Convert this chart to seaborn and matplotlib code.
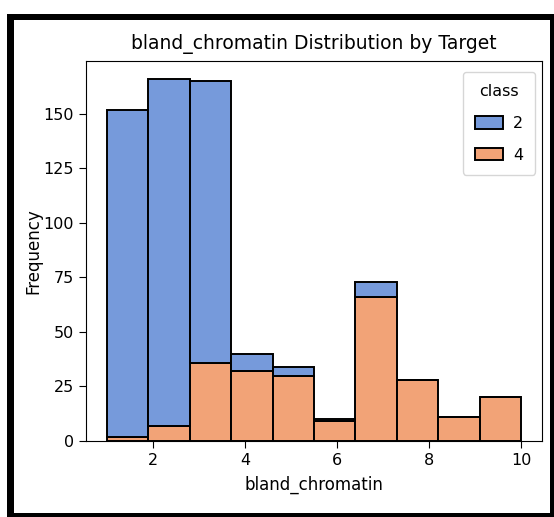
import matplotlib
matplotlib.use("Agg")
import matplotlib.pyplot as plt
from matplotlib.patches import Rectangle
import seaborn as sns
import pandas as pd

# bland_chromatin values and counts per class
chromatin_values = [1, 2, 3, 4, 5, 6, 7, 8, 9, 10]
counts_class2 = [150, 159, 129, 8, 4, 1, 7, 0, 0, 0]
counts_class4 = [2, 7, 36, 32, 30, 9, 66, 28, 11, 20]
class_levels = [2, 4]

df = pd.DataFrame({
    "bland_chromatin": chromatin_values * 2,
    "count": counts_class2 + counts_class4,
    "class": [2] * len(chromatin_values) + [4] * len(chromatin_values),
})

plt.rcParams["font.family"] = ["DejaVu Sans"]
fig = plt.figure(figsize=(5.54, 5.17), dpi=100)
ax = fig.add_axes([86 / 554, 1 - 441 / 517, (542 - 86) / 554, (441 - 61) / 517])

sns.histplot(
    data=df, x="bland_chromatin", weights="count", hue="class",
    hue_order=class_levels, multiple="stack", bins=10,
    palette="muted", edgecolor="black", linewidth=1.4, ax=ax,
)

ax.set_title("bland_chromatin Distribution by Target", fontsize=13.5, pad=9)
ax.set_xlabel("bland_chromatin", fontsize=12, labelpad=6)
ax.set_ylabel("Frequency", fontsize=12, labelpad=1)
ax.tick_params(labelsize=11.5, length=5)
ax.set_yticks([0, 25, 50, 75, 100, 125, 150])
ax.set_xticks([2, 4, 6, 8, 10])

old = ax.get_legend()
handles = old.legend_handles
labels = [t.get_text() for t in old.get_texts()]
old.remove()
ax.legend(handles, labels, title="class", loc="upper right", fontsize=11.5,
          title_fontsize=11.5, labelspacing=1.05, handleheight=0.85,
          handlelength=1.8, handletextpad=0.6, borderpad=0.75,
          bbox_to_anchor=(1 - 7 / 456, 1 - 11 / 380), borderaxespad=0)

# black screenshot frame
W, H = 554, 517
for (x0, y0, w, h) in [(7, 0, 7, 503), (7, 497, 547, 6), (550, 0, 4, 503), (7, 0, 547, 4)]:
    fig.add_artist(Rectangle((x0 / W, y0 / H), w / W, h / H, transform=fig.transFigure,
                             facecolor="black", edgecolor="none", zorder=10))

fig.savefig("out.png", dpi=100)
